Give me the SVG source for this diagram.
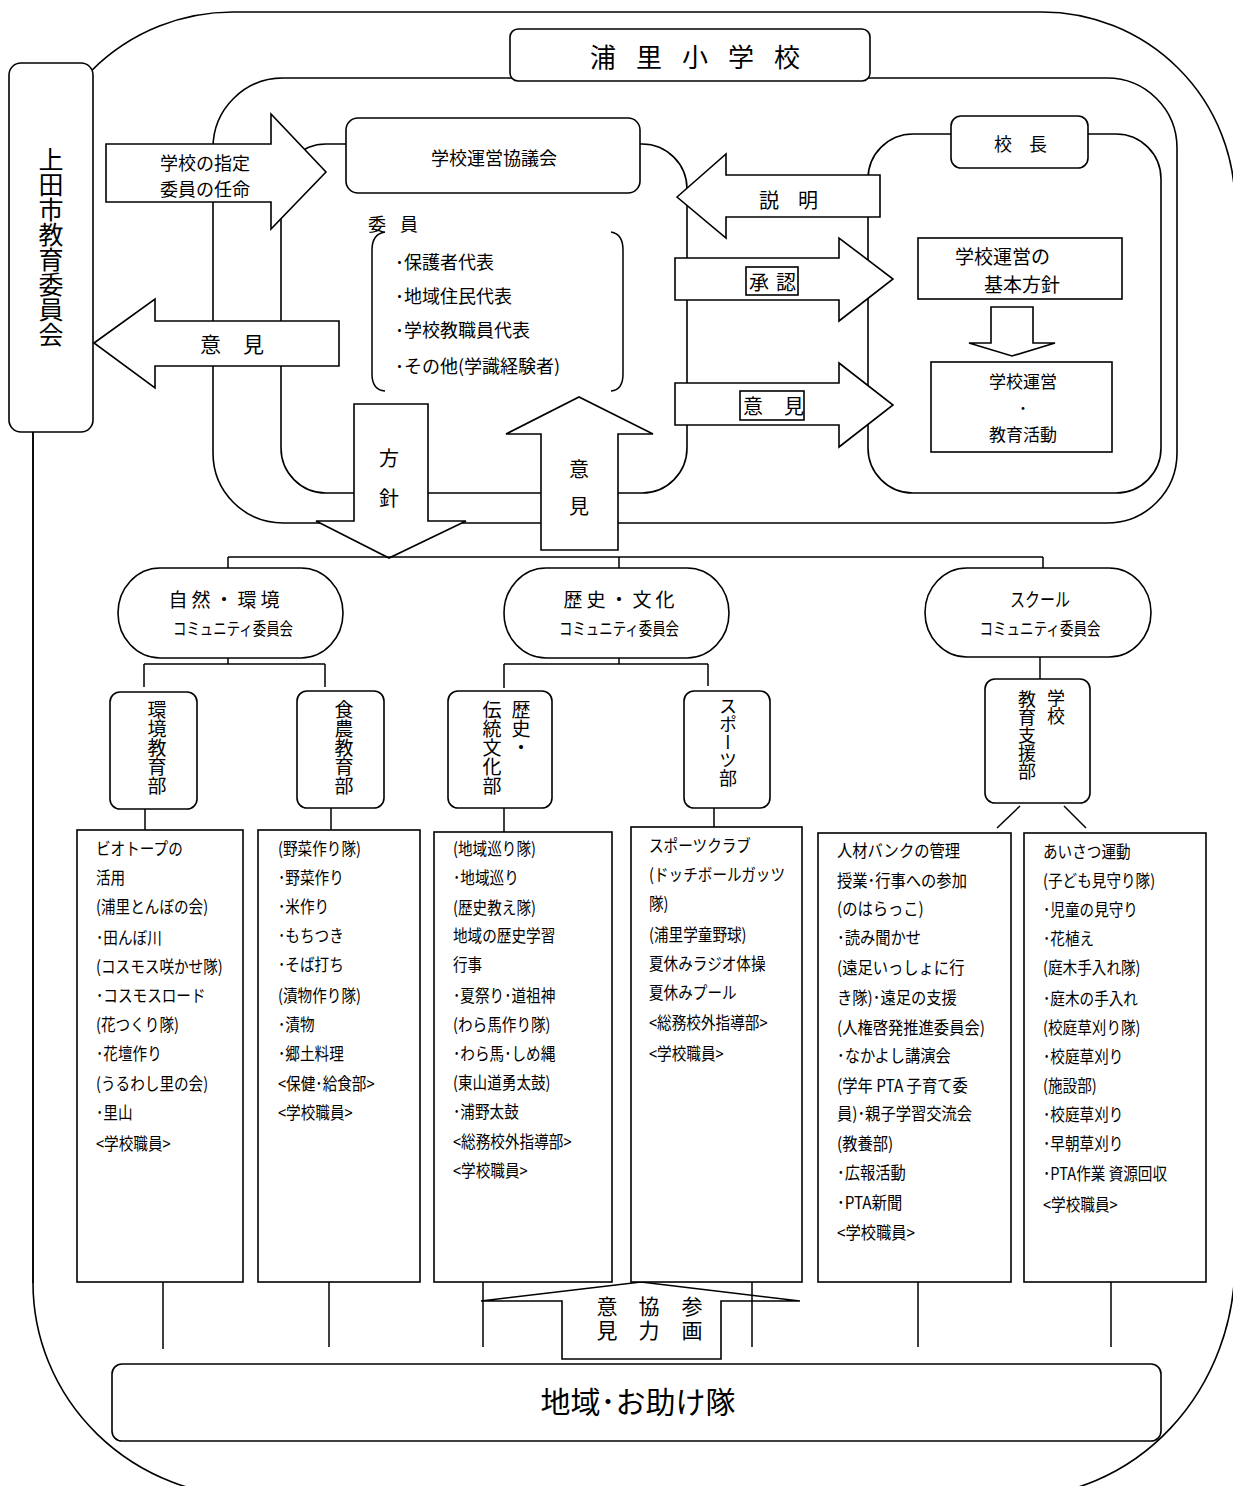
<svg xmlns="http://www.w3.org/2000/svg" width="1233" height="1486" viewBox="0 0 1233 1486">
<style>
.s{fill:none;stroke:#000;stroke-width:1.6}
.w{fill:#fff;stroke:#000;stroke-width:1.6}
.l{fill:none;stroke:#000;stroke-width:1.5}
text{font-family:"Noto Sans CJK JP","Noto Sans",sans-serif;fill:#000}
.c{text-anchor:middle;dominant-baseline:central}
.b{dominant-baseline:central}
.v{writing-mode:vertical-rl;text-anchor:start}
.t{font-size:17px;dominant-baseline:central}
</style>
<rect width="1233" height="1486" fill="#fff"/>
<g id="frames">
<path class="s" d="M233,12 H1042 A193,193 0 0 1 1235,205 V1262 A220,235 0 0 1 1015,1497 H253 A220,214 0 0 1 33,1283 V212 A200,200 0 0 1 233,12 Z"/>
<rect class="s" x="213" y="78" width="964" height="445" rx="70"/>
<rect class="s" x="281" y="144" width="406" height="349" rx="45"/>
<rect class="s" x="868" y="134" width="293" height="359" rx="45"/>
</g>
<g id="board">
<rect class="w" x="9" y="63" width="84" height="369" rx="12"/>
<text class="v" x="51" y="147" font-size="25">上田市教育委員会</text>
</g>
<g id="school">
<rect class="w" x="510" y="29" width="360" height="52" rx="8"/>
<text class="b" x="590" y="55" font-size="26" letter-spacing="20">浦里小学校</text>
</g>
<g id="council">
<rect class="w" x="346" y="118" width="294" height="75" rx="12"/>
<text class="c" x="494" y="157" font-size="18">学校運営協議会</text>
</g>
<g id="members">
<text class="b" x="368" y="223" font-size="18" letter-spacing="14">委員</text>
<path class="l" d="M385,232 Q372,234 372,250 V374 Q372,390 385,391"/>
<path class="l" d="M611,232 Q623,234 623,250 V374 Q623,390 611,391"/>
<text class="b" font-size="18"><tspan x="395" y="261">･保護者代表</tspan><tspan x="395" y="295">･地域住民代表</tspan><tspan x="395" y="329">･学校教職員代表</tspan><tspan x="395" y="365">･その他(学識経験者)</tspan></text>
</g>
<g id="principal">
<rect class="w" x="951" y="116" width="137" height="52" rx="10"/>
<text class="b" x="994" y="143" font-size="18" letter-spacing="17">校長</text>
</g>
<g id="policy">
<rect class="w" x="918" y="238" width="204" height="61"/>
<text class="b" x="955" y="255" font-size="19">学校運営の</text>
<text class="b" x="984" y="283" font-size="19">基本方針</text>
</g>
<g id="activity">
<rect class="w" x="931" y="362" width="181" height="90"/>
<text class="c" x="1023" y="380" font-size="17">学校運営</text>
<text class="c" x="1023" y="407" font-size="17">･</text>
<text class="c" x="1023" y="433" font-size="17">教育活動</text>
</g>
<g id="arrows">
<polygon class="w" points="106,144 271,144 271,114 326,172 271,229 271,202 106,202"/>
<text class="c" x="205" y="162" font-size="18">学校の指定</text>
<text class="c" x="205" y="188" font-size="18">委員の任命</text>
<polygon class="w" points="94,343 155,299 155,321 339,321 339,366 155,366 155,388"/>
<text class="b" x="200" y="343" font-size="21" letter-spacing="22">意見</text>
<polygon class="w" points="354,404 428,404 428,521 466,521 389,558 316,521 354,521"/>
<text class="c" font-size="20"><tspan x="389" y="457">方</tspan><tspan x="389" y="497">針</tspan></text>
<polygon class="w" points="541,550 541,434 506,434 579,397 653,434 618,434 618,550"/>
<text class="c" font-size="20"><tspan x="579" y="468">意</tspan><tspan x="579" y="505">見</tspan></text>
<polygon class="w" points="677,197 726,154 726,175 880,175 880,217 726,217 726,238"/>
<text class="b" x="759" y="199" font-size="20" letter-spacing="19">説明</text>
<polygon class="w" points="675,258 839,258 839,238 893,279 839,321 839,300 675,300"/>
<rect class="s" x="746" y="267" width="52" height="28"/>
<text class="b" x="749" y="281" font-size="20" letter-spacing="7">承認</text>
<polygon class="w" points="675,383 839,383 839,363 893,405 839,447 839,425 675,425"/>
<rect class="s" x="740" y="391" width="64" height="29"/>
<text class="b" x="743" y="405" font-size="20" letter-spacing="21">意見</text>
<polygon class="w" points="991,307 1033,307 1033,343 1055,343 1012,356 969,343 991,343"/>
<polygon class="w" points="562,1359 562,1301 481,1301 641,1282 800,1301 721,1301 721,1359"/>
<text class="v" x="692" y="1296" font-size="21" letter-spacing="3">参画</text>
<text class="v" x="649" y="1296" font-size="21" letter-spacing="3">協力</text>
<text class="v" x="607" y="1296" font-size="21" letter-spacing="3">意見</text>
</g>
<g id="connectors">
<path class="l" d="M33,432 V1283"/>
<path class="l" d="M228,557 H1043 M228,557 V568 M619,557 V568 M1043,557 V568"/>
<path class="l" d="M228,658 V664 M144,664 H325 M144,664 V687 M325,664 V687"/>
<path class="l" d="M619,647 V664 M504,664 H708 M504,664 V688 M708,664 V686"/>
<path class="l" d="M1040,643 V679"/>
<path class="l" d="M145,809 V830 M331,808 V830 M504,808 V832 M714,808 V827"/>
<path class="l" d="M1020,806 L997,828 M1064,806 L1086,828"/>
<path class="l" d="M163,1282 V1349 M329,1282 V1347 M483,1282 V1347 M752,1282 V1347 M918,1282 V1347 M1111,1282 V1347"/>
</g>
<g id="c_nature">
<rect class="w" x="118" y="568" width="225" height="90" rx="42" ry="45"/>
<text class="c" x="226" y="598" font-size="19" letter-spacing="4">自然・環境</text>
<text class="c" x="233" y="627" font-size="17" textLength="120" lengthAdjust="spacingAndGlyphs">コミュニティ委員会</text>
</g>
<g id="c_history">
<rect class="w" x="504" y="568" width="225" height="90" rx="42" ry="45"/>
<text class="c" x="621" y="598" font-size="19" letter-spacing="4">歴史・文化</text>
<text class="c" x="619" y="627" font-size="17" textLength="120" lengthAdjust="spacingAndGlyphs">コミュニティ委員会</text>
</g>
<g id="c_school">
<rect class="w" x="925" y="568" width="226" height="89" rx="42" ry="45"/>
<text class="c" x="1040" y="598" font-size="19" textLength="60" lengthAdjust="spacingAndGlyphs">スクール</text>
<text class="c" x="1040" y="627" font-size="17" textLength="121" lengthAdjust="spacingAndGlyphs">コミュニティ委員会</text>
</g>
<g id="d_env">
<rect class="w" x="110" y="692" width="87" height="117" rx="10"/>
<text class="v" x="157" y="700" font-size="19">環境教育部</text>
</g>
<g id="d_food">
<rect class="w" x="297" y="691" width="87" height="117" rx="10"/>
<text class="v" x="344" y="700" font-size="19">食農教育部</text>
</g>
<g id="d_hist">
<rect class="w" x="448" y="691" width="104" height="117" rx="10"/>
<text class="v" x="521" y="700" font-size="19">歴史・</text>
<text class="v" x="492" y="700" font-size="19">伝統文化部</text>
</g>
<g id="d_sport">
<rect class="w" x="684" y="691" width="86" height="117" rx="10"/>
<text class="v" x="728" y="697" font-size="18">スポーツ部</text>
</g>
<g id="d_support">
<rect class="w" x="985" y="679" width="105" height="124" rx="10"/>
<text class="v" x="1056" y="689" font-size="18">学校</text>
<text class="v" x="1027" y="690" font-size="18">教育支援部</text>
</g>
<g id="box1">
<rect class="w" x="77" y="830" width="166" height="452"/>
<g transform="translate(96 0) scale(0.86 1)"><text class="t">
<tspan x="0" y="847">ビオトープの</tspan><tspan x="0" y="877">活用</tspan><tspan x="0" y="906">(浦里とんぼの会)</tspan><tspan x="0" y="936">･田んぼ川</tspan><tspan x="0" y="965">(コスモス咲かせ隊)</tspan><tspan x="0" y="994">･コスモスロード</tspan><tspan x="0" y="1024">(花つくり隊)</tspan><tspan x="0" y="1053">･花壇作り</tspan><tspan x="0" y="1083">(うるわし里の会)</tspan><tspan x="0" y="1112">･里山</tspan><tspan x="0" y="1142">&lt;学校職員&gt;</tspan></text></g>
</g>
<g id="box2">
<rect class="w" x="258" y="830" width="162" height="452"/>
<g transform="translate(278 0) scale(0.86 1)"><text class="t">
<tspan x="0" y="847">(野菜作り隊)</tspan><tspan x="0" y="877">･野菜作り</tspan><tspan x="0" y="906">･米作り</tspan><tspan x="0" y="935">･もちつき</tspan><tspan x="0" y="964">･そば打ち</tspan><tspan x="0" y="994">(漬物作り隊)</tspan><tspan x="0" y="1023">･漬物</tspan><tspan x="0" y="1052">･郷土料理</tspan><tspan x="0" y="1083">&lt;保健･給食部&gt;</tspan><tspan x="0" y="1112">&lt;学校職員&gt;</tspan></text></g>
</g>
<g id="box3">
<rect class="w" x="434" y="832" width="178" height="450"/>
<g transform="translate(453 0) scale(0.86 1)"><text class="t">
<tspan x="0" y="848">(地域巡り隊)</tspan><tspan x="0" y="877">･地域巡り</tspan><tspan x="0" y="907">(歴史教え隊)</tspan><tspan x="0" y="935">地域の歴史学習</tspan><tspan x="0" y="964">行事</tspan><tspan x="0" y="994">･夏祭り･道祖神</tspan><tspan x="0" y="1023">(わら馬作り隊)</tspan><tspan x="0" y="1052">･わら馬･しめ縄</tspan><tspan x="0" y="1082">(東山道勇太鼓)</tspan><tspan x="0" y="1111">･浦野太鼓</tspan><tspan x="0" y="1141">&lt;総務校外指導部&gt;</tspan><tspan x="0" y="1170">&lt;学校職員&gt;</tspan></text></g>
</g>
<g id="box4">
<rect class="w" x="631" y="827" width="171" height="455"/>
<g transform="translate(649 0) scale(0.86 1)"><text class="t">
<tspan x="0" y="845">スポーツクラブ</tspan><tspan x="0" y="874">(ドッチボールガッツ</tspan><tspan x="0" y="903">隊)</tspan><tspan x="0" y="933">(浦里学童野球)</tspan><tspan x="0" y="962">夏休みラジオ体操</tspan><tspan x="0" y="992">夏休みプール</tspan><tspan x="0" y="1022">&lt;総務校外指導部&gt;</tspan><tspan x="0" y="1052">&lt;学校職員&gt;</tspan></text></g>
</g>
<g id="box5">
<rect class="w" x="818" y="833" width="193" height="449"/>
<g transform="translate(837 0) scale(0.9 1)"><text class="t">
<tspan x="0" y="850">人材バンクの管理</tspan><tspan x="0" y="880">授業･行事への参加</tspan><tspan x="0" y="908">(のはらっこ)</tspan><tspan x="0" y="937">･読み聞かせ</tspan><tspan x="0" y="967">(遠足いっしょに行</tspan><tspan x="0" y="997">き隊)･遠足の支援</tspan><tspan x="0" y="1027">(人権啓発推進委員会)</tspan><tspan x="0" y="1055">･なかよし講演会</tspan><tspan x="0" y="1085">(学年 PTA 子育て委</tspan><tspan x="0" y="1113">員)･親子学習交流会</tspan><tspan x="0" y="1143">(教養部)</tspan><tspan x="0" y="1172">･広報活動</tspan><tspan x="0" y="1202">･PTA新聞</tspan><tspan x="0" y="1232">&lt;学校職員&gt;</tspan></text></g>
</g>
<g id="box6">
<rect class="w" x="1024" y="833" width="182" height="449"/>
<g transform="translate(1043 0) scale(0.86 1)"><text class="t">
<tspan x="0" y="850">あいさつ運動</tspan><tspan x="0" y="880">(子ども見守り隊)</tspan><tspan x="0" y="908">･児童の見守り</tspan><tspan x="0" y="938">･花植え</tspan><tspan x="0" y="967">(庭木手入れ隊)</tspan><tspan x="0" y="997">･庭木の手入れ</tspan><tspan x="0" y="1027">(校庭草刈り隊)</tspan><tspan x="0" y="1055">･校庭草刈り</tspan><tspan x="0" y="1085">(施設部)</tspan><tspan x="0" y="1113">･校庭草刈り</tspan><tspan x="0" y="1143">･早朝草刈り</tspan><tspan x="0" y="1173">･PTA作業 資源回収</tspan><tspan x="0" y="1203">&lt;学校職員&gt;</tspan></text></g>
</g>
<g id="community">
<rect class="w" x="112" y="1364" width="1049" height="77" rx="10"/>
<text class="c" x="638" y="1400" font-size="30">地域･お助け隊</text>
</g>
</svg>
